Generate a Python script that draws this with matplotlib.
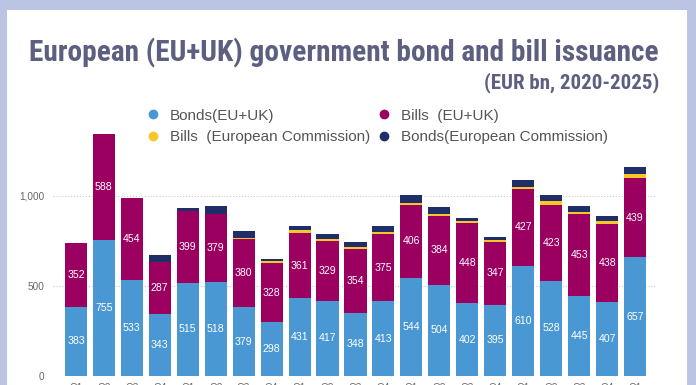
import numpy as np
import matplotlib
matplotlib.use('Agg')
import matplotlib.pyplot as plt
from matplotlib.patches import Rectangle
from matplotlib.lines import Line2D

# data (EUR bn), 2020 Q1 .. 2025 Q1
quarters = ['Q1', 'Q2', 'Q3', 'Q4'] * 5 + ['Q1']
bonds_euuk = [383, 755, 533, 343, 515, 518, 379, 298, 431, 417, 348, 413,
              544, 504, 402, 395, 610, 528, 445, 407, 657]
bills_euuk = [352, 588, 454, 287, 399, 379, 380, 328, 361, 329, 354, 375,
              406, 384, 448, 347, 427, 423, 453, 438, 439]
bills_ec = [0, 0, 0, 0, 0, 0, 8, 12, 17, 15, 13, 11,
            11, 11, 12, 11, 13, 17, 13, 14, 24]
bonds_ec = [0, 0, 0, 40, 20, 45, 37, 12, 22, 28, 28, 31,
            41, 37, 12, 20, 37, 36, 32, 30, 40]

c_blue = '#4a98d3'
c_purple = '#9b0060'
c_yellow = '#f7c72a'
c_navy = '#1f2e68'
c_title = '#5c5f80'
c_text = '#555555'

fig = plt.figure(figsize=(6.96, 3.85), dpi=100)
fig.patch.set_facecolor('#bcc4e4')
fig.add_artist(Rectangle((7 / 696, 0), 680 / 696, 375 / 385,
                         transform=fig.transFigure, facecolor='white',
                         edgecolor='none', zorder=0))

title_font = ['Roboto Condensed', 'Liberation Sans Narrow', 'Liberation Sans']
fig.text(659 / 696, 1 - 61.7 / 385, 'European (EU+UK) government bond and bill issuance',
         ha='right', va='baseline', fontsize=21.2, fontweight='bold',
         color=c_title, family=title_font)
fig.text(659 / 696, 1 - 88 / 385, '(EUR bn, 2020-2025)',
         ha='right', va='baseline', fontsize=15, fontweight='bold',
         color=c_title, family=title_font)

ax = fig.add_axes([53 / 696, 9.3 / 385, 603 / 696, 252 / 385])
ax.set_facecolor('none')

x = np.arange(len(quarters))
w = 0.79
b1 = np.array(bonds_euuk)
b2 = np.array(bills_euuk)
b3 = np.array(bills_ec)
b4 = np.array(bonds_ec)

ax.bar(x, b1, w, color=c_blue, zorder=2)
ax.bar(x, b2, w, bottom=b1, color=c_purple, zorder=2)
ax.bar(x, b3, w, bottom=b1 + b2, color=c_yellow, zorder=2)
ax.bar(x, b4, w, bottom=b1 + b2 + b3, color=c_navy, zorder=2)

for i in range(len(x)):
    ax.text(x[i], b1[i] / 2, str(b1[i]), ha='center', va='center',
            color='white', fontsize=7.6, family='Liberation Sans', zorder=3)
    ax.text(x[i], b1[i] + b2[i] / 2, str(b2[i]), ha='center', va='center',
            color='white', fontsize=7.6, family='Liberation Sans', zorder=3)

ax.set_xlim(-0.82, 20.75)
ax.set_ylim(0, 1400)
ax.set_yticks([0, 500, 1000])
ax.set_yticklabels(['0', '500', '1,000'])
ax.set_xticks(x)
ax.set_xticklabels(quarters)
ax.tick_params(length=0, labelsize=7.2, labelcolor='#666666', pad=6)
ax.tick_params(axis='x', pad=5.5)
for t in ax.get_xticklabels() + ax.get_yticklabels():
    t.set_family('Liberation Sans')
for s in ax.spines.values():
    s.set_visible(False)
ax.grid(axis='y', linestyle=':', color='#cccccc', linewidth=0.8, zorder=1)

handles = [
    Line2D([], [], marker='o', linestyle='none', color=c_blue, markersize=6),
    Line2D([], [], marker='o', linestyle='none', color=c_yellow, markersize=6),
    Line2D([], [], marker='o', linestyle='none', color=c_purple, markersize=6),
    Line2D([], [], marker='o', linestyle='none', color=c_navy, markersize=6),
]
labels = ['Bonds(EU+UK)', 'Bills  (European Commission)',
          'Bills  (EU+UK)', 'Bonds(European Commission)']
leg = fig.legend(handles, labels, ncol=2, loc='center left',
                 bbox_to_anchor=(145.4 / 696, 1 - 126.5 / 385), frameon=False,
                 prop={'family': 'Liberation Sans', 'size': 11},
                 handletextpad=0.6, columnspacing=0.42, labelspacing=0.5,
                 handlelength=1.0, borderaxespad=0, borderpad=0)
for t in leg.get_texts():
    t.set_color(c_text)

fig.savefig('out.png', dpi=100, facecolor=fig.get_facecolor())
